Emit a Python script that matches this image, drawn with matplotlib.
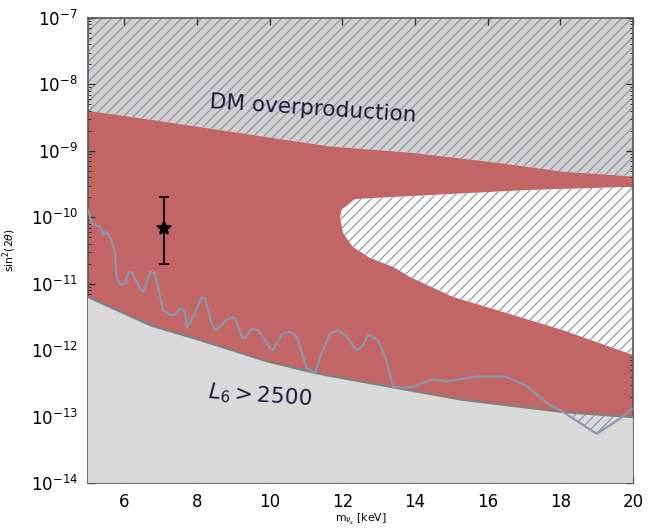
import numpy as np
from matplotlib import pyplot as plt
from matplotlib import ticker
from matplotlib.collections import PolyCollection

# upper edge of the allowed band (DM overproduction above)
x_up = [5.0, 7.07, 11.66, 13.95, 16.26, 18.07, 20.0]
y_up = [4.0e-9, 2.75e-9, 1.16e-9, 9.3e-10, 6.6e-10, 4.85e-10, 4.1e-10]

# L6 > 2500 lower edge
x_l6 = [5.0, 6.75, 8.08, 9.92, 11.2, 11.66, 13.4, 15.33, 18.08, 20.0]
y_l6 = [6.3e-12, 2.33e-12, 1.42e-12, 6.8e-13, 4.6e-13, 4.1e-13, 2.75e-13, 1.78e-13, 1.17e-13, 9.8e-14]

# white hatched hole inside the band (outline)
x_hole = [11.94, 11.98, 12.35, 14.69, 17.17, 20.0, 20.0, 18.07, 16.26, 15.05, 13.86, 13.40, 12.76, 12.29, 12.02]
y_hole = [1.0e-10, 1.3e-10, 1.88e-10, 2.2e-10, 2.58e-10, 2.88e-10, 8.45e-13, 2.0e-12, 4.0e-12,
          6.3e-12, 1.26e-11, 1.79e-11, 2.44e-11, 3.57e-11, 5.8e-11]

# x-ray limit line
x_xr = [5.01, 5.10, 5.33, 5.42, 5.51, 5.65, 5.74, 5.79, 5.9, 6.02, 6.11, 6.2, 6.43, 6.52, 6.71, 6.84,
        7.07, 7.26, 7.39, 7.53, 7.67, 7.72, 7.94, 8.13, 8.22, 8.40, 8.52, 8.68, 8.81, 9.05, 9.23, 9.32,
        9.50, 9.69, 10.01, 10.10, 10.33, 10.56, 10.74, 11.02, 11.25, 11.43, 11.66, 11.89, 12.12, 12.39,
        12.53, 12.72, 12.99, 13.18, 13.40, 13.91, 14.46, 14.87, 15.70, 16.48, 17.08, 17.63, 18.08,
        18.27, 19.0, 19.64, 19.97]
y_xr = [1.29e-10, 8.1e-11, 7.2e-11, 5.4e-11, 6.0e-11, 4.6e-11, 2.9e-11, 1.2e-11, 9.5e-12, 1.02e-11,
        1.45e-11, 1.5e-11, 8.5e-12, 7.4e-12, 1.5e-11, 1.45e-11, 4.0e-12, 3.4e-12, 3.4e-12, 4.3e-12,
        3.8e-12, 2.15e-12, 3.55e-12, 6.3e-12, 6.0e-12, 2.5e-12, 2.0e-12, 2.4e-12, 2.9e-12, 3.1e-12,
        1.6e-12, 1.5e-12, 2.1e-12, 2.0e-12, 1.07e-12, 1.02e-12, 1.74e-12, 1.9e-12, 1.6e-12, 5.4e-13,
        4.5e-13, 8.9e-13, 1.8e-12, 2.0e-12, 1.6e-12, 1.0e-12, 1.1e-12, 1.7e-12, 1.4e-12, 7.9e-13,
        2.75e-13, 2.75e-13, 3.6e-13, 3.4e-13, 4.0e-13, 4.0e-13, 2.9e-13, 1.6e-13, 1.17e-13, 1.0e-13,
        5.5e-14, 9.3e-14, 1.3e-13]

# marked point with error bar
star_x = 7.1
star_y = 7e-11
star_lo = 2e-11
star_hi = 2e-10

ymin, ymax = 1e-14, 1e-7
red = '#c26566'
hatch_col = '#8c90a2'
text_col = '#1c1c3a'

plt.rcParams['hatch.linewidth'] = 0.7
plt.rcParams['hatch.color'] = hatch_col

fig = plt.figure(figsize=(659/120, 529/120), dpi=120)
ax = fig.add_axes([0.1335, 0.087, 0.827, 0.879])
ax.set_yscale('log')

# allowed band
ax.fill_between(x_l6, ymin, ymax, facecolor=red, linewidth=0, zorder=0)
# grey hatched region above
ax.fill_between(x_up, y_up, ymax, facecolor='#cfcfcf', edgecolor=hatch_col, hatch='////', linewidth=0, zorder=1)
# hole
hole = PolyCollection([list(zip(x_hole, y_hole))], facecolors='white', edgecolors=hatch_col,
                      hatch='////', linewidths=0, zorder=2)
ax.add_collection(hole)
# bottom grey
ax.fill_between(x_l6, ymin, y_l6, facecolor='#d9d9d9', linewidth=0, zorder=3)
# hatched sliver where xray line dips below L6
l6_on_xr = 10**np.interp(x_xr, x_l6, np.log10(y_l6))
ax.fill_between(x_xr, y_xr, l6_on_xr, where=np.array(y_xr) < l6_on_xr, interpolate=True,
                facecolor='none', edgecolor=hatch_col, hatch='////', linewidth=0, zorder=3.5)

ax.plot(x_l6, y_l6, color='#808080', lw=1.3, zorder=4)
ax.plot(x_xr, y_xr, color='#8b97ab', lw=1.3, zorder=5)

ax.errorbar([star_x], [star_y], yerr=[[star_y - star_lo], [star_hi - star_y]], fmt='*', color='black',
            ms=9, capsize=3, elinewidth=1, capthick=1, zorder=6)

ax.text(11.19, 4.3e-9, 'DM overproduction', fontsize=13, color=text_col, rotation=-3.8,
        ha='center', va='center', rotation_mode='anchor', zorder=7)
ax.text(8.3, 2.3e-13, r'$L_6 > 2500$', fontsize=13, color=text_col, rotation=-4,
        ha='left', va='center', rotation_mode='anchor', zorder=7)

ax.set_xlim(5, 20)
ax.set_ylim(ymin, ymax)
ax.set_xticks([6, 8, 10, 12, 14, 16, 18, 20])
ax.yaxis.set_major_locator(ticker.LogLocator(base=10, numticks=20))
ax.yaxis.set_minor_locator(ticker.LogLocator(base=10, subs=np.arange(2, 10), numticks=20))
ax.yaxis.set_minor_formatter(ticker.NullFormatter())
ax.tick_params(which='both', direction='in', top=True, right=True, labelsize=10, color='#333333')
ax.tick_params(which='major', length=4, width=0.8, pad=6)
ax.tick_params(which='minor', length=2, width=0.6)
for s in ax.spines.values():
    s.set_color('#555555')
    s.set_linewidth(1.0)

ax.set_xlabel(r'm$_{\nu_s}$ [keV]', fontsize=6.5)
ax.set_ylabel(r'sin$^2(2\theta)$', fontsize=6.5)
ax.xaxis.set_label_coords(0.5, -0.062)
ax.yaxis.set_label_coords(-0.128, 0.5)

fig.savefig('out.png', dpi=120)
